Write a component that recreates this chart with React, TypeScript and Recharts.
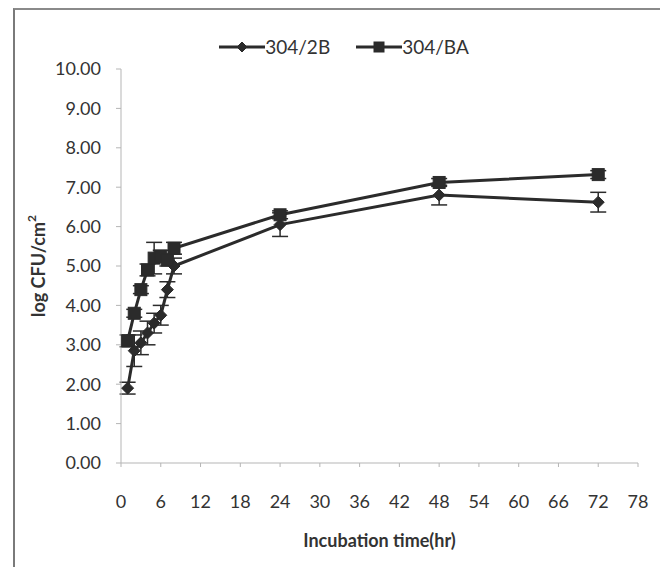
import { LineChart, Line, XAxis, YAxis, ErrorBar, Legend } from 'recharts'

const hours = [1, 2, 3, 4, 5, 6, 7, 8, 24, 48, 72]
const count2B = [1.9, 2.85, 3.05, 3.3, 3.55, 3.75, 4.4, 5.0, 6.05, 6.8, 6.62]
const sd2B = [0.15, 0.4, 0.3, 0.3, 0.25, 0.25, 0.2, 0.2, 0.3, 0.25, 0.25]
const countBA = [3.1, 3.8, 4.4, 4.9, 5.2, 5.25, 5.15, 5.45, 6.3, 7.12, 7.32]
const sdBA = [0.15, 0.1, 0.1, 0.15, 0.4, 0.15, 0.15, 0.15, 0.1, 0.1, 0.1]

const xTicks = [0, 6, 12, 18, 24, 30, 36, 42, 48, 54, 60, 66, 72, 78]
const yTicks = [0, 1, 2, 3, 4, 5, 6, 7, 8, 9, 10]

const rows = hours.map((h, i) => ({
  hour: h,
  b2: count2B[i],
  b2Err: sd2B[i],
  ba: countBA[i],
  baErr: sdBA[i],
}))

const INK = '#2b2b2b'
const TEXT = '#333'
const FONT = 'Lato, "Open Sans", sans-serif'

function Diamond({ cx, cy, size = 6 }: { cx: number; cy: number; size?: number }) {
  return (
    <polygon
      points={`${cx},${cy - size} ${cx + size},${cy} ${cx},${cy + size} ${cx - size},${cy}`}
      fill={INK}
      stroke={INK}
    />
  )
}

function Square({ cx, cy, size = 6 }: { cx: number; cy: number; size?: number }) {
  return <rect x={cx - size} y={cy - size} width={size * 2} height={size * 2} fill={INK} stroke={INK} />
}

const legendItems = [
  { name: '304/2B', shape: 'diamond' },
  { name: '304/BA', shape: 'square' },
]

function LegendContent() {
  return (
    <div
      style={{
        display: 'flex',
        justifyContent: 'center',
        gap: 26,
        paddingLeft: 28,
        fontFamily: FONT,
        fontSize: 19,
        color: TEXT,
      }}
    >
      {legendItems.map((item) => (
        <div key={item.name} style={{ display: 'flex', alignItems: 'center' }}>
          <svg width={46} height={16}>
            <line x1={0} y1={8} x2={46} y2={8} stroke={INK} strokeWidth={3} />
            {item.shape === 'diamond' ? <Diamond cx={23} cy={8} size={5} /> : <Square cx={23} cy={8} size={5} />}
          </svg>
          <span>{item.name}</span>
        </div>
      ))}
    </div>
  )
}

function YTitle({ viewBox }: any) {
  const cy = viewBox.y + viewBox.height / 2
  return (
    <text
      x={38}
      y={cy}
      transform={`rotate(-90, 38, ${cy})`}
      textAnchor="middle"
      dominantBaseline="central"
      fontFamily={FONT}
      fontWeight={700}
      fontSize={18}
      fill={TEXT}
    >
      log CFU/cm<tspan fontSize={12} dy={-7}>2</tspan>
    </text>
  )
}

export default function App() {
  return (
    <div style={{ position: 'absolute', left: 0, top: 0, width: 660, height: 567, background: '#fff', overflow: 'hidden' }}>
      <div
        style={{
          position: 'absolute',
          left: 13,
          top: 8,
          width: 700,
          height: 600,
          borderLeft: '2px solid #7a7a7a',
          borderTop: '2px solid #8a8a8a',
        }}
      />
      <LineChart width={660} height={567} data={rows} margin={{ top: 69, right: 22, left: 0, bottom: 0 }}>
        <XAxis
          dataKey="hour"
          type="number"
          domain={[0, 78]}
          ticks={xTicks}
          interval={0}
          height={104}
          stroke="#b5b5b5"
          tickSize={4}
          tickMargin={28}
          tick={{ fill: TEXT, fontFamily: FONT, fontSize: 18 }}
          label={{
            value: 'Incubation time(hr)',
            position: 'insideBottom',
            offset: 20,
            fill: TEXT,
            fontFamily: FONT,
            fontWeight: 700,
            fontSize: 18,
          }}
        />
        <YAxis
          type="number"
          domain={[0, 10]}
          ticks={yTicks}
          interval={0}
          width={121}
          stroke="#b5b5b5"
          tickSize={5}
          tickMargin={15}
          tickFormatter={(v: number) => v.toFixed(2)}
          tick={{ fill: TEXT, fontFamily: FONT, fontSize: 18 }}
          label={<YTitle />}
        />
        <Legend verticalAlign="middle" align="center" content={<LegendContent />} wrapperStyle={{ top: 35, left: 0, width: 660 }} />
        <Line
          dataKey="b2"
          name="304/2B"
          stroke={INK}
          strokeWidth={3}
          isAnimationActive={false}
          dot={(p: any) => <Diamond key={`d-${p.index}`} cx={p.cx} cy={p.cy} />}
        >
          <ErrorBar dataKey="b2Err" direction="y" width={8} stroke={INK} strokeWidth={1.5} />
        </Line>
        <Line
          dataKey="ba"
          name="304/BA"
          stroke={INK}
          strokeWidth={3}
          isAnimationActive={false}
          dot={(p: any) => <Square key={`s-${p.index}`} cx={p.cx} cy={p.cy} />}
        >
          <ErrorBar dataKey="baErr" direction="y" width={8} stroke={INK} strokeWidth={1.5} />
        </Line>
      </LineChart>
    </div>
  )
}
